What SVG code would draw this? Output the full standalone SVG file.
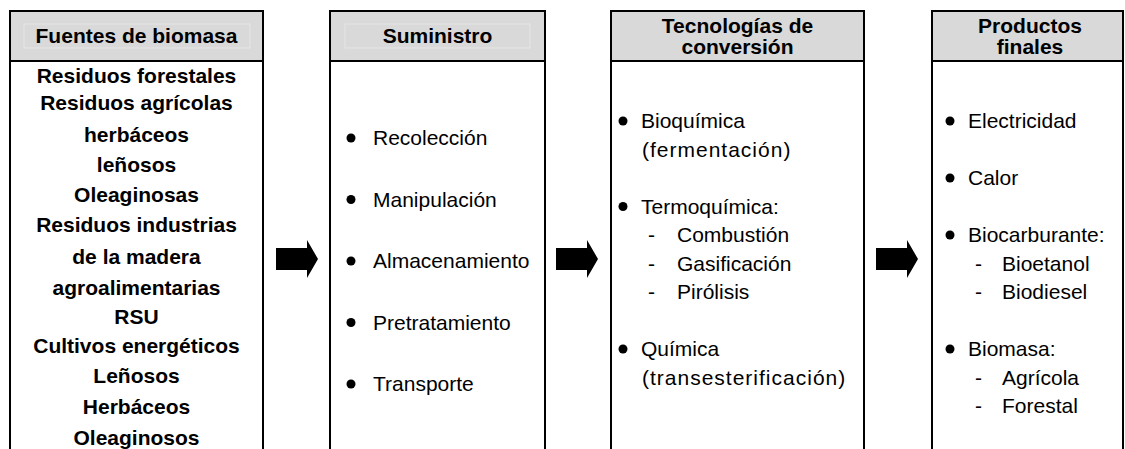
<svg xmlns="http://www.w3.org/2000/svg" width="1125" height="449" viewBox="0 0 1125 449">
<style>
.box{fill:#ffffff;stroke:#000000;stroke-width:2}
.hdr{fill:#d9d9d9;stroke:#000000;stroke-width:2}
.faint{fill:none;stroke:#e6e6e6;stroke-width:1}
.h{font-family:"Liberation Sans",Arial,sans-serif;font-size:21px;font-weight:bold;fill:#000;text-anchor:middle}
.b{font-family:"Liberation Sans",Arial,sans-serif;font-size:21px;font-weight:bold;fill:#000;text-anchor:middle}
.t{font-family:"Liberation Sans",Arial,sans-serif;font-size:21px;fill:#000}
.w{letter-spacing:1px}
.dot{fill:#000}
.arrow{fill:#000}
</style>
<rect width="1125" height="449" fill="#ffffff"/>

<g id="fuentes">
<rect class="box" x="10" y="11" width="253" height="460"/>
<rect class="hdr" x="10" y="11" width="253" height="50"/>
<rect class="faint" x="24" y="24" width="226" height="24"/>
<text class="h" x="136.5" y="43">Fuentes de biomasa</text>
<text class="b" x="136.5" y="83">Residuos forestales</text>
<text class="b" x="136.5" y="110">Residuos agrícolas</text>
<text class="b" x="136.5" y="142">herbáceos</text>
<text class="b" x="136.5" y="172">leñosos</text>
<text class="b" x="136.5" y="202">Oleaginosas</text>
<text class="b" x="136.5" y="232">Residuos industrias</text>
<text class="b" x="136.5" y="264">de la madera</text>
<text class="b" x="136.5" y="295">agroalimentarias</text>
<text class="b" x="136.5" y="324">RSU</text>
<text class="b" x="136.5" y="353">Cultivos energéticos</text>
<text class="b" x="136.5" y="383">Leñosos</text>
<text class="b" x="136.5" y="414">Herbáceos</text>
<text class="b" x="136.5" y="445">Oleaginosos</text>
</g>

<g id="suministro">
<rect class="box" x="330" y="11" width="215" height="460"/>
<rect class="hdr" x="330" y="11" width="215" height="50"/>
<rect class="faint" x="345" y="24" width="185" height="24"/>
<text class="h" x="437.5" y="43">Suministro</text>
<circle class="dot" cx="351" cy="138" r="4.5"/>
<text class="t" x="373" y="145">Recolección</text>
<circle class="dot" cx="351" cy="199.5" r="4.5"/>
<text class="t" x="373" y="206.5">Manipulación</text>
<circle class="dot" cx="351" cy="261" r="4.5"/>
<text class="t" x="373" y="268">Almacenamiento</text>
<circle class="dot" cx="351" cy="322.5" r="4.5"/>
<text class="t" x="373" y="329.5">Pretratamiento</text>
<circle class="dot" cx="351" cy="384" r="4.5"/>
<text class="t" x="373" y="391">Transporte</text>
</g>

<g id="tecnologias">
<rect class="box" x="611" y="11" width="253" height="460"/>
<rect class="hdr" x="611" y="11" width="253" height="50"/>
<text class="h" x="737.5" y="32.5">Tecnologías de</text>
<text class="h" x="737.5" y="54">conversión</text>
<circle class="dot" cx="623" cy="121" r="4.5"/>
<text class="t" x="641" y="128">Bioquímica</text>
<text class="t w" x="642" y="156.5">(fermentación)</text>
<circle class="dot" cx="623" cy="206.5" r="4.5"/>
<text class="t" x="641" y="213.5">Termoquímica:</text>
<text class="t" x="648" y="242">-</text>
<text class="t" x="677" y="242">Combustión</text>
<text class="t" x="648" y="270.5">-</text>
<text class="t" x="677" y="270.5">Gasificación</text>
<text class="t" x="648" y="299">-</text>
<text class="t" x="677" y="299">Pirólisis</text>
<circle class="dot" cx="623" cy="349" r="4.5"/>
<text class="t" x="641" y="356">Química</text>
<text class="t w" x="642" y="384.5">(transesterificación)</text>
</g>

<g id="productos">
<rect class="box" x="932" y="11" width="191" height="460"/>
<rect class="hdr" x="932" y="11" width="191" height="50"/>
<text class="h" x="1030" y="32.5">Productos</text>
<text class="h" x="1030" y="54">finales</text>
<circle class="dot" cx="950" cy="121" r="4.5"/>
<text class="t" x="968" y="128">Electricidad</text>
<circle class="dot" cx="950" cy="178" r="4.5"/>
<text class="t" x="968" y="185">Calor</text>
<circle class="dot" cx="950" cy="235" r="4.5"/>
<text class="t" x="968" y="242">Biocarburante:</text>
<text class="t" x="975" y="270.5">-</text>
<text class="t" x="1002" y="270.5">Bioetanol</text>
<text class="t" x="975" y="299">-</text>
<text class="t" x="1002" y="299">Biodiesel</text>
<circle class="dot" cx="950" cy="349" r="4.5"/>
<text class="t" x="968" y="356">Biomasa:</text>
<text class="t" x="975" y="384.5">-</text>
<text class="t" x="1002" y="384.5">Agrícola</text>
<text class="t" x="975" y="413">-</text>
<text class="t" x="1002" y="413">Forestal</text>
</g>

<g id="connectors">
<polygon class="arrow" points="276,248 307,248 307,240 318,259 307,278 307,270 276,270"/>
<polygon class="arrow" points="556,248 587,248 587,240 598,259 587,278 587,270 556,270"/>
<polygon class="arrow" points="876,248 907,248 907,240 918,259 907,278 907,270 876,270"/>
</g>
</svg>
